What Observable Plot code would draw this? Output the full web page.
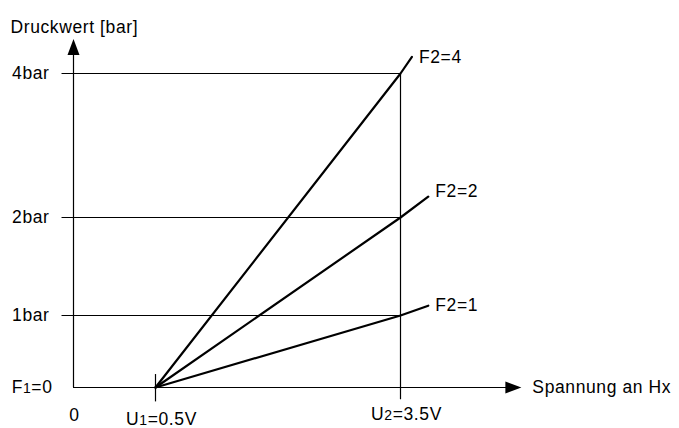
<!DOCTYPE html>
<html>
<head>
<meta charset="utf-8">
<script src="https://cdn.jsdelivr.net/npm/d3@7"></script>
<script src="https://cdn.jsdelivr.net/npm/@observablehq/plot@0.6"></script>
<style>
  html, body { margin: 0; padding: 0; background: #fff; }
  svg { display: block; }
</style>
</head>
<body>
<div id="chart"></div>
<script>
// ---- data ----
const seriesLabels = ["F2=4", "F2=2", "F2=1"];
const startU = 0.5;                 // U1
const refU = 3.5;                   // U2
const valuesAtU2 = [4, 2, 1];       // bar at U2
const endU = [3.64, 3.84, 3.84];    // where each line stops
const endP = [4.23, 2.29, 1.10];
const labelP = [4.23, 2.36, 1.10];

const yTicks = [4, 2, 1];
const yTickLabels = ["4bar", "2bar", "1bar"];
const xTicks = [0.5, 3.5];
const xTickLabels = ["U1=0.5V", "U2=3.5V"];
const originLabelY = "F1=0";
const originLabelX = "0";
const yTitle = "Druckwert [bar]";
const xTitle = "Spannung an Hx";
const axisXEnd = 4.98;
const axisYEnd = 4.48;
const subscripted = ["U1=0.5V", "U2=3.5V", "F1=0"];

// ---- derived tables ----
const lineData = seriesLabels.flatMap((s, i) => [
  {s, u: startU, p: 0},
  {s, u: refU, p: valuesAtU2[i]},
  {s, u: endU[i], p: endP[i]}
]);
const labelData = seriesLabels.map((s, i) => ({s, u: endU[i], p: labelP[i]}));

const triUp = {draw(ctx) { ctx.moveTo(0, 0); ctx.lineTo(6, 16); ctx.lineTo(-6, 16); ctx.closePath(); }};

const font = "Liberation Sans, Arial, Helvetica, sans-serif";
const fs = 17.5;

const plot = Plot.plot({
  width: 679,
  height: 428,
  margin: 0,
  x: {type: "linear", domain: [0, 0.5, 3.5], range: [73, 155, 400], axis: null},
  y: {type: "linear", domain: [0, 1, 2, 4], range: [387, 315, 217, 73], axis: null},
  style: {fontFamily: font, fontSize: "17.5px", letterSpacing: "0.6px", color: "#000", background: "#fff"},
  marks: [
    Plot.ruleY(yTicks, {y: d => d, x1: -0.07, x2: refU, stroke: "#000", strokeWidth: 1.2}),
    Plot.ruleX([refU], {x: d => d, y1: -0.17, y2: 4, stroke: "#000", strokeWidth: 1.2}),
    Plot.ruleX([startU], {x: d => d, y1: -0.2, y2: 0.18, stroke: "#000", strokeWidth: 1.2}),
    Plot.ruleY([0], {x1: 0, x2: axisXEnd - 0.15, stroke: "#000", strokeWidth: 1.2}),
    Plot.ruleX([0], {y1: 0, y2: axisYEnd - 0.15, stroke: "#000", strokeWidth: 1.2}),
    Plot.dot([{u: 0, p: axisYEnd}], {x: "u", y: "p", symbol: triUp, fill: "#000", stroke: null}),
    Plot.dot([{u: axisXEnd, p: 0}], {x: "u", y: "p", symbol: triUp, rotate: 90, fill: "#000", stroke: null}),
    Plot.line(lineData, {x: "u", y: "p", z: "s", stroke: "#000", strokeWidth: 2.2}),
    Plot.text(labelData, {x: "u", y: "p", text: "s", textAnchor: "start", dx: 7, fontSize: fs}),
    Plot.text(yTicks, {x: 0, y: d => d, text: (d, i) => yTickLabels[i], textAnchor: "end", dx: -24, fontSize: fs}),
    Plot.text([originLabelY], {x: 0, y: 0, text: d => d, textAnchor: "end", dx: -21, fontSize: fs}),
    Plot.text([originLabelX], {x: 0, y: 0, text: d => d, textAnchor: "middle", dx: 1, dy: 28, fontSize: fs}),
    Plot.text(xTicks, {x: d => d, y: 0, text: (d, i) => xTickLabels[i], textAnchor: "middle", dx: 6, fontSize: fs}),
    Plot.text([yTitle], {frameAnchor: "top-left", text: d => d, textAnchor: "start", dx: 10, dy: 20, fontSize: fs}),
    Plot.text([xTitle], {x: axisXEnd, y: 0, text: d => d, textAnchor: "start", dx: 11, fontSize: fs})
  ]
});

plot.querySelectorAll("text").forEach(t => {
  const s = t.textContent;
  if (s === "U1=0.5V") t.setAttribute("transform", (t.getAttribute("transform") || "") + " translate(0,32)");
  if (s === "U2=3.5V") t.setAttribute("transform", (t.getAttribute("transform") || "") + " translate(0,27)");
  if (subscripted.includes(s)) {
    const ns = "http://www.w3.org/2000/svg";
    t.textContent = "";
    const a = document.createElementNS(ns, "tspan"); a.textContent = s[0];
    const b = document.createElementNS(ns, "tspan"); b.textContent = s[1];
    b.setAttribute("font-size", "14px");
    const c = document.createElementNS(ns, "tspan"); c.textContent = s.slice(2);
    t.append(a, b, c);
  }
});

document.getElementById("chart").appendChild(plot);
</script>
</body>
</html>
